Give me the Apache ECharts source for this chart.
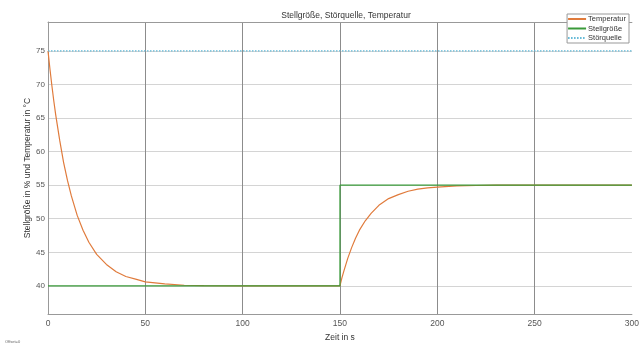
<!DOCTYPE html>
<html>
<head>
<meta charset="utf-8">
<script src="https://cdn.jsdelivr.net/npm/echarts@6/dist/echarts.min.js"></script>
<style>html,body{margin:0;padding:0;background:#fff}#c{width:642px;height:347px}</style>
</head>
<body>
<div id="c"></div>
<script>
var tempTimes = [0, 1, 2, 3, 4, 6, 8, 10, 12, 15, 18, 21, 25, 30, 35, 40, 45, 50, 60, 70, 80, 100, 150,
                 151, 152, 154, 156, 158, 160, 163, 166, 170, 175, 180, 185, 190, 195, 200, 210, 220, 230, 300];
var tempValues = [75, 72.3, 69.8, 67.5, 65.4, 61.7, 58.4, 55.7, 53.4, 50.5, 48.3, 46.5, 44.7, 43.2, 42.1, 41.4, 41.0, 40.6, 40.3, 40.1, 40.05, 40, 40,
                  41.2, 42.2, 44.1, 45.7, 47.1, 48.3, 49.7, 50.8, 52.0, 53.0, 53.6, 54.1, 54.4, 54.6, 54.7, 54.9, 54.95, 55, 55];
var stellTimes = [0, 150, 150, 300];
var stellValues = [40, 40, 55, 55];
var stoerTimes = [0, 300];
var stoerValues = [75, 75];
var xTicks = [0, 50, 100, 150, 200, 250, 300];
var yTicks = [40, 45, 50, 55, 60, 65, 70, 75];

function pairs(t, v) { return t.map(function (x, i) { return [x, v[i]]; }); }

var chart = echarts.init(document.getElementById('c'), null, {renderer: 'canvas'});
var font = 'Liberation Sans, Arial, sans-serif';
var vg = '#8c8c8c';
chart.setOption({
  animation: false,
  textStyle: {fontFamily: font},
  title: {
    text: 'Stellgröße, Störquelle, Temperatur',
    left: 341, top: 6, textAlign: 'center',
    textStyle: {fontSize: 8.5, fontWeight: 'normal', color: '#333', fontFamily: font}
  },
  legend: {
    right: 13, top: 14, orient: 'vertical',
    itemWidth: 18, itemHeight: 8, itemGap: 1.5,
    padding: [1, 3, 1, 0],
    borderColor: '#999', borderWidth: 1, backgroundColor: '#fff',
    itemStyle: {opacity: 0},
    textStyle: {fontSize: 7.5, color: '#333', padding: [0, 0, 0, -3]},
    data: ['Temperatur', 'Stellgröße', 'Störquelle']
  },
  grid: {left: 48, right: 6, top: 22, bottom: 31},
  xAxis: [{
    type: 'value', min: 0, max: 300, interval: 50,
    name: 'Zeit in s', nameLocation: 'middle', nameGap: 17,
    nameTextStyle: {fontSize: 8.5, color: '#333'},
    axisLine: {show: true, lineStyle: {color: '#999'}},
    axisTick: {show: false},
    axisLabel: {fontSize: 8.5, color: '#555', margin: 5,
      formatter: function (v) { return xTicks.indexOf(v) >= 0 ? String(v) : ''; }},
    splitLine: {show: true, lineStyle: {color: [vg, vg, vg, vg, vg, vg, 'rgba(0,0,0,0)'], width: 1}}
  }, {
    type: 'value', min: 0, max: 300, position: 'top',
    axisLine: {show: true, lineStyle: {color: '#999'}},
    axisTick: {show: false}, axisLabel: {show: false}, splitLine: {show: false}
  }],
  yAxis: {
    type: 'value', min: 35.8, max: 79.3, splitNumber: 9,
    name: 'Stellgröße in % und Temperatur in °C', nameLocation: 'middle', nameGap: 16,
    nameMoveOverlap: false,
    nameTextStyle: {fontSize: 8.5, color: '#333'},
    axisLine: {show: true, lineStyle: {color: '#999'}},
    axisTick: {show: false},
    axisLabel: {fontSize: 8, color: '#555', margin: 3, showMinLabel: false, showMaxLabel: false,
      formatter: function (v) { return yTicks.indexOf(v) >= 0 ? String(v) : ''; }},
    splitLine: {show: true, lineStyle: {color: '#d4d4d4', width: 1}}
  },
  series: [{
    name: 'Temperatur', type: 'line', symbol: 'none', smooth: false,
    data: pairs(tempTimes, tempValues),
    lineStyle: {color: '#e07b3c', width: 1.2}, itemStyle: {color: '#e07b3c'}
  }, {
    name: 'Stellgröße', type: 'line', symbol: 'none',
    data: pairs(stellTimes, stellValues),
    lineStyle: {color: '#3a9a3a', width: 1.2}, itemStyle: {color: '#3a9a3a'}
  }, {
    name: 'Störquelle', type: 'line', symbol: 'none',
    data: pairs(stoerTimes, stoerValues),
    lineStyle: {color: '#5fb8d6', width: 1.2, type: [1.5, 1.5]}, itemStyle: {color: '#5fb8d6'}
  }],
  graphic: [{
    type: 'text', left: 5, top: 340,
    style: {text: 'Offset=0', fontSize: 4, fill: '#666', fontFamily: font}
  }]
});
</script>
</body>
</html>
